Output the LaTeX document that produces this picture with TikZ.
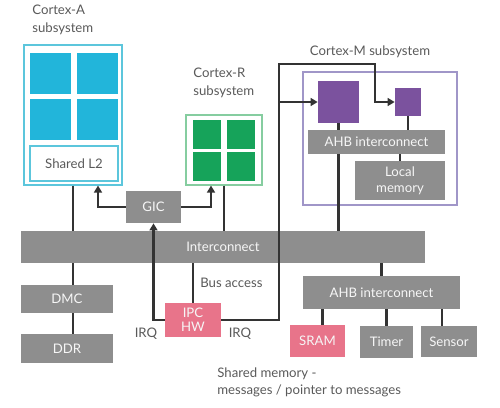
\documentclass[tikz,border=0pt]{standalone}
\usepackage{fontspec}
\setmainfont{Lato}
\usetikzlibrary{arrows.meta, positioning, fit, calc}
\definecolor{socgrey}{HTML}{8E8E8E}
\definecolor{soctext}{HTML}{5A5A5A}
\definecolor{socline}{HTML}{333333}
\definecolor{soccyan}{HTML}{22B5DA}
\definecolor{soccyanedge}{HTML}{5CC6DC}
\definecolor{socgreen}{HTML}{16A35A}
\definecolor{socgreenedge}{HTML}{86CDA0}
\definecolor{socpurple}{HTML}{7B529E}
\definecolor{socpurpleedge}{HTML}{A096C8}
\definecolor{socpink}{HTML}{E8748A}
\tikzset{
  greybox/.style={fill=socgrey, inner sep=0pt, text=white!92!socgrey, font=\fontsize{7.5}{9}\selectfont, align=center},
  pinkbox/.style={greybox, fill=socpink},
  tile/.style={inner sep=0pt},
  caption/.style={text=soctext, font=\fontsize{7.5}{9}\selectfont, inner sep=0pt},
  wire/.style={draw=socline, line width=1.25pt},
  irq/.style={wire, -{Triangle[length=4pt, width=4.5pt]}},
}
\begin{document}
\begin{tikzpicture}[x=0.02cm, y=-0.02cm]
      \useasboundingbox (0,0) rectangle (500,407);
      % Cortex-A subsystem
      \node[caption, anchor=north west, align=left] (calabel) at (32,5) {Cortex-A\\[1pt]subsystem};
      \node[draw=soccyanedge, line width=0.6pt, fit={(24,45) (122,185)}, inner sep=0pt] (cA) {};
      \foreach \i/\x in {1/30, 2/77} {
        \foreach \j/\y in {1/53, 2/99} {
          \node[tile, fill=soccyan, fit={(\x,\y) ($(\x,\y)+(41,41)$)}] (ca\i\j) {};
        }
      }
      \node[draw=soccyanedge, line width=0.6pt, fill=white, fit={(30,146) (118,181)}, inner sep=0pt] (l2) {};
      \node[caption] at (l2) {Shared L2};
      % Cortex-R subsystem
      \node[caption, anchor=north west, align=left] (crlabel) at (193,68) {Cortex-R\\[1pt]subsystem};
      \node[draw=socgreenedge, line width=0.6pt, fit={(186,115) (262,185)}, inner sep=0pt] (cR) {};
      \foreach \i/\x in {1/193, 2/227} {
        \foreach \j/\y in {1/120, 2/152} {
          \node[tile, fill=socgreen, fit={(\x,\y) ($(\x,\y)+(28,29)$)}] (cr\i\j) {};
        }
      }
      % Cortex-M subsystem
      \node[caption] (cmlabel) at (370,52) {Cortex-M subsystem};
      \node[draw=socpurpleedge, line width=0.6pt, fit={(303,72) (457,205)}, inner sep=0pt] (cM) {};
      \node[tile, fill=socpurple, fit={(318,81) (359,123)}] (mcu) {};
      \node[tile, fill=socpurple, fit={(395,88) (421,116)}] (mcus) {};
      \node[greybox, fit={(308,130) (445,154)}] (ahbm) {};
      \node[greybox, fill=none] at (ahbm) {AHB interconnect};
      \node[greybox, fit={(355,161) (445,200)}] (loc) {};
      \node[greybox, fill=none] at (loc) {Local\\memory};
      % GIC and interconnect
      \node[greybox, fit={(126,191) (181,223)}] (gic) {};
      \node[greybox, fill=none] at (gic) {GIC};
      \node[greybox, fit={(21,231) (425,263)}] (ic) {};
      \node[greybox, fill=none] at (ic) {Interconnect};
      % memory side
      \node[greybox, fit={(21,285) (113,313)}] (dmc) {};
      \node[greybox, fill=none] at (dmc) {DMC};
      \node[greybox, fit={(21,334) (113,363)}] (ddr) {};
      \node[greybox, fill=none] at (ddr) {DDR};
      \node[pinkbox, fit={(165,303) (221,337)}] (ipc) {};
      \node[greybox, fill=none, font=\fontsize{7.5}{8}\selectfont] at (ipc) {IPC\\HW};
      \node[greybox, fit={(303,276) (460,309)}] (ahb) {};
      \node[greybox, fill=none] at (ahb) {AHB interconnect};
      \node[pinkbox, fit={(290,325) (345,357)}] (sram) {};
      \node[greybox, fill=none] at (sram) {SRAM};
      \node[greybox, fit={(360,326) (413,358)}] (timer) {};
      \node[greybox, fill=none] at (timer) {Timer};
      \node[greybox, fit={(421,326) (477,357)}] (sensor) {};
      \node[greybox, fill=none] at (sensor) {Sensor};
      % labels
      \node[caption, anchor=west] (busacc) at (200,283) {Bus access};
      \node[caption] (irql) at (146,334) {IRQ};
      \node[caption] (irqr) at (240,334) {IRQ};
      \node[caption, anchor=north west, align=left] (shmem) at (217,367) {Shared memory -\\[1pt]messages / pointer to messages};
      % connectors
      \draw[wire] (cA.south) -- (cA.south |- ic.north);
      \draw[wire] (cR.south) -- (cR.south |- ic.north);
      \draw[irq] (gic.west) -| ([xshift=0.5cm]cA.south);
      \draw[irq] (gic.east) -| ([xshift=-0.26cm]cR.south);
      \draw[wire] (cA.south |- ic.south) -- (cA.south |- dmc.north);
      \draw[wire] (cA.south |- dmc.south) -- (cA.south |- ddr.north);
      \draw[wire] (ipc.north) -- (ipc.north |- ic.south);
      \draw[irq] (ipc.west) -| (gic.south);
      \coordinate (irqtop) at (279,64);
      \draw[irq] (ipc.east) -| (irqtop) -| ([xshift=-0.4cm]mcus.west) -- (mcus.west);
      \draw[irq] (irqtop |- mcu.west) -- (mcu.west);
      \draw[wire] (mcu.south) -- (mcu.south |- ahbm.north);
      \draw[wire] (mcus.south) -- (mcus.south |- ahbm.north);
      \draw[wire] (loc.north) -- (loc.north |- ahbm.south);
      \draw[wire] (mcu.south |- ahbm.south) -- (mcu.south |- ic.north);
      \draw[wire] (ahb.north) -- (ahb.north |- ic.south);
      \draw[wire] ([xshift=0.1cm]sram.north) -- ([xshift=0.1cm]sram.north |- ahb.south);
      \draw[wire] (timer.north) -- (timer.north |- ahb.south);
      \draw[wire] ([xshift=-0.14cm]sensor.north) -- ([xshift=-0.14cm]sensor.north |- ahb.south);
    \end{tikzpicture}
\end{document}
